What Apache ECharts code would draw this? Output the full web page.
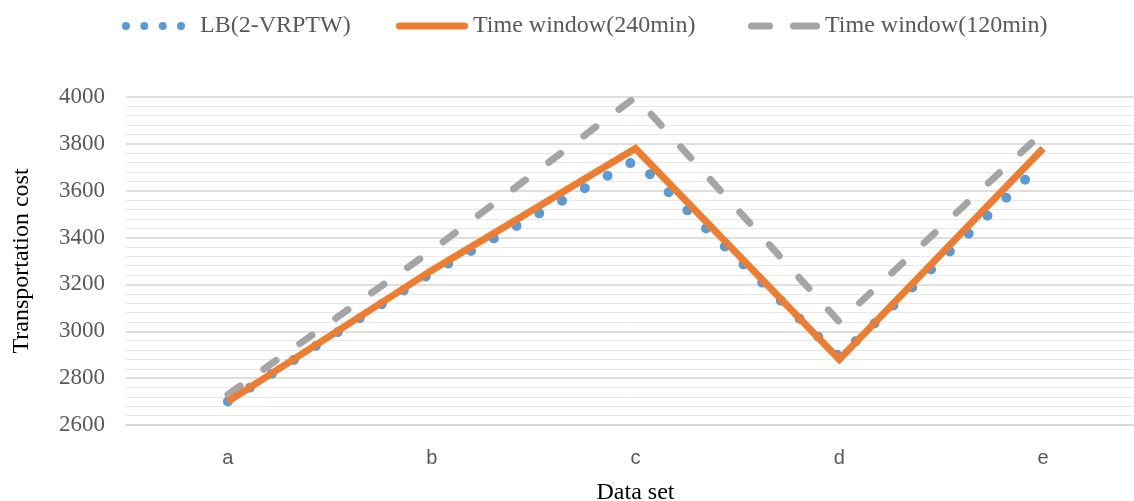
<!DOCTYPE html>
<html><head><meta charset="utf-8">
<script src="https://cdn.jsdelivr.net/npm/echarts@6/dist/echarts.min.js"></script>
<style>html,body{margin:0;padding:0;background:#fff}#c{width:1134px;height:501px}</style>
</head><body><div id="c"></div>
<script>
const categories = ['a','b','c','d','e'];
const lbValues = [2700, 3250, 3730, 2890, 3720];
const tw240Values = [2700, 3260, 3780, 2880, 3780];
const tw120Values = [2730, 3345, 4000, 3040, 3850];
const seriesNames = ['LB(2-VRPTW)', 'Time window(240min)', 'Time window(120min)'];

const serif = 'Liberation Serif';
const sans = 'Liberation Sans';
const dotsIcon = 'path://M0,4a4,4 0 1,0 8,0a4,4 0 1,0 -8,0Z M18.3,4a4,4 0 1,0 8,0a4,4 0 1,0 -8,0Z M36.7,4a4,4 0 1,0 8,0a4,4 0 1,0 -8,0Z M55,4a4,4 0 1,0 8,0a4,4 0 1,0 -8,0Z';
const barIcon = 'path://M3.5,0H68.5A3.5,3.5 0 0,1 68.5,7H3.5A3.5,3.5 0 0,1 3.5,0Z';
const dashIcon = 'path://M3.5,0H21.5A3.5,3.5 0 0,1 21.5,7H3.5A3.5,3.5 0 0,1 3.5,0Z M45.5,0H68.5A3.5,3.5 0 0,1 68.5,7H45.5A3.5,3.5 0 0,1 45.5,0Z';

function legendAt(left, name, icon, w, h, pad) {
  return {
    left: left, top: 14, padding: 0, itemWidth: w, itemHeight: h, itemGap: 0,
    symbolKeepAspect: false,
    itemStyle: {borderWidth: 0},
    textStyle: {fontFamily: serif, fontSize: 24, color: '#595959', padding: [0, 0, 0, pad]},
    data: [{name: name, icon: icon}]
  };
}

const chart = echarts.init(document.getElementById('c'));
chart.setOption({
  animation: false,
  backgroundColor: '#fff',
  legend: [
    legendAt(122, seriesNames[0], dotsIcon, 63, 8, 10),
    legendAt(396, seriesNames[1], barIcon, 72, 7, 0),
    legendAt(748, seriesNames[2], dashIcon, 72, 7, 0)
  ],
  grid: {left: 126, top: 97, width: 1019, height: 328, outerBoundsMode: 'none', containLabel: false},
  xAxis: {
    type: 'category', data: categories,
    name: 'Data set', nameLocation: 'middle', nameGap: 56,
    nameTextStyle: {fontFamily: serif, fontSize: 24, color: '#000'},
    axisLine: {lineStyle: {color: '#d4d4d4', width: 1.5}},
    axisTick: {show: false},
    axisLabel: {fontFamily: sans, fontSize: 20, color: '#595959', margin: 23}
  },
  yAxis: {
    type: 'value', min: 2600, max: 4000, interval: 200,
    name: 'Transportation cost', nameLocation: 'middle', nameGap: 92,
    nameTextStyle: {fontFamily: serif, fontSize: 24, color: '#000'},
    axisLine: {show: false}, axisTick: {show: false},
    axisLabel: {fontFamily: serif, fontSize: 23, color: '#595959', margin: 21,
                formatter: v => String(v)},
    splitLine: {lineStyle: {color: '#d4d4d4', width: 1.5}},
    minorTick: {show: false, splitNumber: 5},
    minorSplitLine: {show: true, lineStyle: {color: '#e8e8e8', width: 1}}
  },
  series: [
    {name: seriesNames[0], type: 'line', data: lbValues, symbol: 'none', z: 2,
     itemStyle: {color: '#5b9bd5'},
     lineStyle: {color: '#5b9bd5', width: 10, type: [0, 26], cap: 'round'}},
    {name: seriesNames[1], type: 'line', data: tw240Values, symbol: 'none', z: 4,
     itemStyle: {color: '#ed7d31'},
     lineStyle: {color: '#ed7d31', width: 7, cap: 'butt', join: 'miter'}},
    {name: seriesNames[2], type: 'line', data: tw120Values, symbol: 'none', z: 3,
     itemStyle: {color: '#a5a5a5'},
     lineStyle: {color: '#a5a5a5', width: 7, type: [15, 29], cap: 'round'}}
  ]
});
</script></body></html>
